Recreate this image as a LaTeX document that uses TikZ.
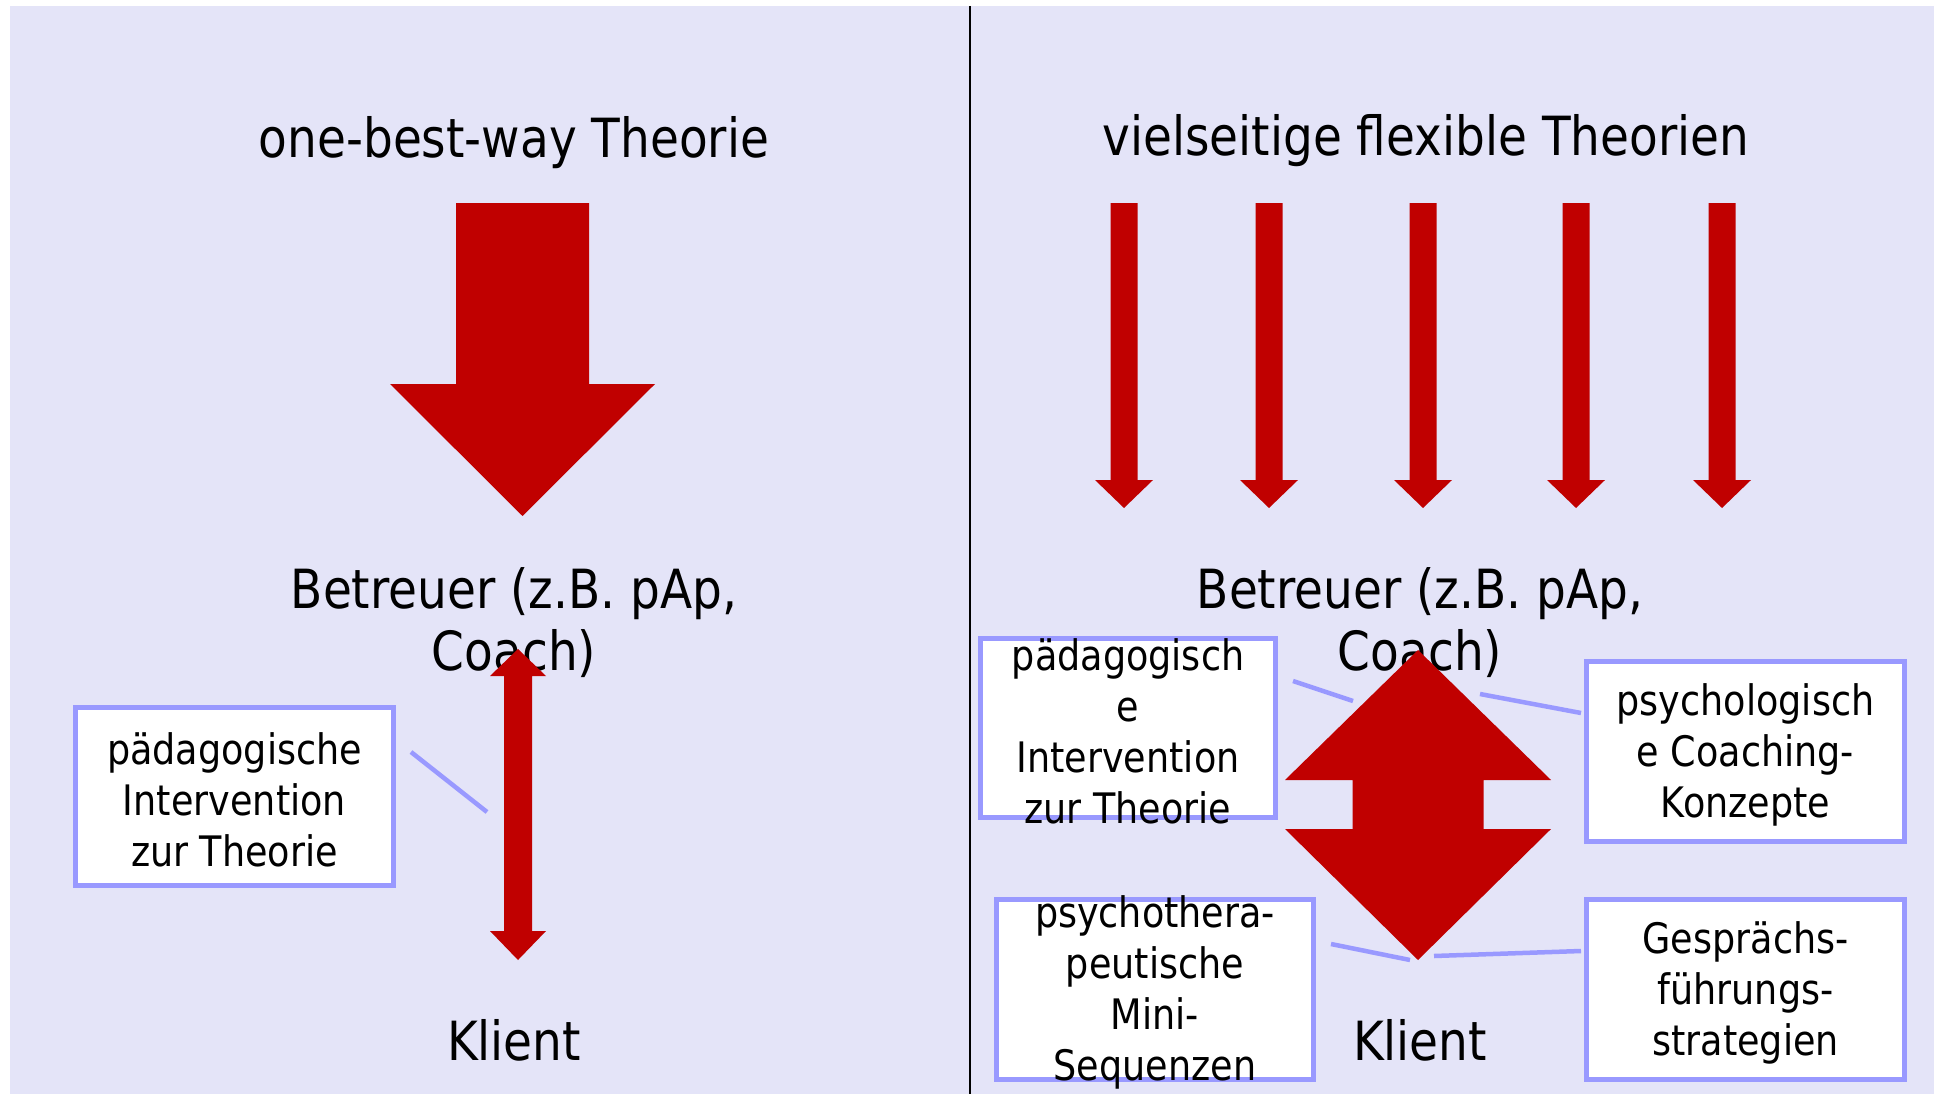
\documentclass[tikz,border=0pt]{standalone}
\usepackage{fontspec}
\setmainfont{DejaVu Sans}[FakeStretch=0.87]
\usetikzlibrary{positioning}
\definecolor{bgpanel}{RGB}{228,228,248}
\definecolor{arrowred}{RGB}{192,0,0}
\definecolor{boxline}{RGB}{153,153,255}
\tikzset{
  bigtext/.style={font=\fontsize{54}{62}\selectfont, align=center, inner sep=0pt},
  boxtext/.style={font=\fontsize{42}{51}\selectfont, align=center, inner sep=0pt, yshift=-3pt},
  infobox/.style={rectangle, draw=boxline, line width=5pt, fill=white, inner sep=0pt},
  link/.style={draw=boxline, line width=4.5pt},
  redarrow/.style={fill=arrowred}
}

\begin{document}
\begin{tikzpicture}[x=1pt, y=-1pt]

  \useasboundingbox (0,0) rectangle (1934,1094);
  \fill[bgpanel] (10,6) rectangle (1934,1094);
  \draw[line width=2pt] (970,6) -- (970,1094);

  % left side: one theory
  \node[bigtext] (titleL) at (514,143) {one-best-way Theorie};
  \node[bigtext] (betrL)  at (514,623) {Betreuer (z.B. pAp,\\Coach)};
  \node[bigtext] (klientL) at (514,1040) {Klient};

  \fill[redarrow] (456,203) -- (589,203) -- (589,384) -- (655,384) -- (522.5,516)
    -- (390,384) -- (456,384) -- cycle;
  \fill[redarrow] (518,649) -- (546,676) -- (532,676) -- (532,931) -- (546,931)
    -- (518,960) -- (490,931) -- (504,931) -- (504,676) -- (490,676) -- cycle;

  \node[infobox, minimum width=318, minimum height=178] (pedL) at (234.5,796.5) {};
  \node[boxtext] at (pedL) {pädagogische\\Intervention\\zur Theorie};
  \coordinate (pedL-a) at (411,752);
  \coordinate (pedL-b) at (487,812);
  \draw[link] (pedL-a) -- (pedL-b);

  % right side: many theories
  \node[bigtext] (titleR) at (1426,141) {vielseitige flexible Theorien};
  \node[bigtext] (betrR)  at (1420,623) {Betreuer (z.B. pAp,\\Coach)};
  \node[bigtext] (klientR) at (1420,1040) {Klient};

  \foreach \x in {1124,1269,1423,1576,1722}
    \fill[redarrow] ({\x-13.5},203) -- ({\x+13.5},203) -- ({\x+13.5},480) -- ({\x+29},480)
      -- (\x,508) -- ({\x-29},480) -- ({\x-13.5},480) -- cycle;

  \node[infobox, minimum width=295, minimum height=179] (pedR) at (1128,728) {};
  \node[infobox, minimum width=318, minimum height=180] (coach) at (1745.5,751.5) {};
  \node[infobox, minimum width=317, minimum height=180] (thera) at (1155,989.5) {};
  \node[infobox, minimum width=318, minimum height=180] (gespr) at (1745.5,989.5) {};

  \fill[redarrow] (1418,650) -- (1551,780) -- (1483.5,780) -- (1483.5,829) -- (1551,829)
    -- (1418,960) -- (1285,829) -- (1352.5,829) -- (1352.5,780) -- (1285,780) -- cycle;

  \node[boxtext] at (pedR)  {pädagogisch\\e\\Intervention\\zur Theorie};
  \node[boxtext] at (coach) {psychologisch\\e Coaching-\\Konzepte};
  \node[boxtext] at (thera) {psychothera-\\peutische\\Mini-\\Sequenzen};
  \node[boxtext] at (gespr) {Gesprächs-\\führungs-\\strategien};

  \coordinate (pedR-a)  at (1293,681);
  \coordinate (pedR-b)  at (1353,701);
  \coordinate (coach-a) at (1480,694);
  \coordinate (coach-b) at (1581,713);
  \coordinate (thera-a) at (1331,944);
  \coordinate (thera-b) at (1410,960);
  \coordinate (gespr-a) at (1434,956);
  \coordinate (gespr-b) at (1581,951);
  \draw[link] (pedR-a)  -- (pedR-b);
  \draw[link] (coach-a) -- (coach-b);
  \draw[link] (thera-a) -- (thera-b);
  \draw[link] (gespr-a) -- (gespr-b);

\end{tikzpicture}
\end{document}
